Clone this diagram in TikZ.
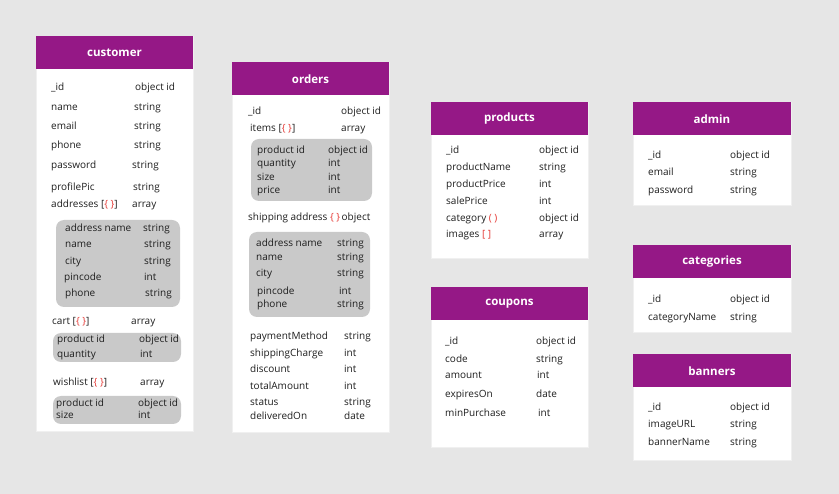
\documentclass[tikz,border=0pt]{standalone}
\usepackage{fontspec}
\setmainfont{Open Sans}
\definecolor{bgc}{HTML}{E6E6E6}
\definecolor{purp}{HTML}{951886}
\definecolor{gbx}{HTML}{C9C9C9}
\definecolor{txt}{HTML}{1E1E1E}
\definecolor{bred}{HTML}{E53935}
\newcommand\rd[1]{\textcolor{bred}{#1}}
\newcommand\fld[6]{\node[fl] (#1l) at (#2,#3) {#4}; \node[fl] (#1t) at (#5,#3) {#6};}
\newcommand\tbl[6]{%
  \node[tbody, minimum width=#4pt, minimum height=#5pt] (#1) at (#2,#3) {};
  \node[thead, minimum width=#4pt] (#1h) at (#2,#3) {#6};}
\newcommand\gb[5]{\node[gbox, minimum width=#4pt, minimum height=#5pt] (#1) at (#2,#3) {};}
\tikzset{
  fl/.style={anchor=mid west, inner sep=0pt, yshift=-0.8pt, font=\fontsize{10}{12}\selectfont, text=txt},
  tbody/.style={anchor=north west, fill=white, draw=white!94!black, line width=0.6pt, inner sep=0pt, outer sep=0pt},
  thead/.style={anchor=north west, fill=purp, minimum height=33.5pt, inner sep=0pt, outer sep=0pt, text=white, font=\fontsize{11.5}{13}\selectfont\bfseries},
  gbox/.style={anchor=north west, fill=gbx, rounded corners=8pt, inner sep=0pt, outer sep=0pt}
}
\begin{document}
\begin{tikzpicture}[x=1pt, y=-1pt]
\fill[bgc] (0,0) rectangle (839,494);
\useasboundingbox (0,0) rectangle (839,494);
% tables
\tbl{cust}{36}{36}{157}{395}{customer}
\tbl{ord}{232}{62}{157}{370}{orders}
\tbl{prod}{431}{102}{157}{156}{products}
\tbl{coup}{431}{287}{157}{160}{coupons}
\tbl{adm}{633}{102}{158}{103}{admin}
\tbl{cat}{633}{245}{158}{87}{categories}
\tbl{ban}{633}{354}{158}{106}{banners}
% grey sub boxes
\gb{cgA}{56}{220}{124}{87}
\gb{cgB}{53}{333}{128}{29}
\gb{cgC}{53}{396}{128}{28}
\gb{ogA}{251}{139}{121}{62}
\gb{ogB}{249}{232}{121}{85}
% customer
\fld{c1}{51}{87}{\_id}{135}{object id}
\fld{c2}{51}{107}{name}{134}{string}
\fld{c3}{51}{126}{email}{134}{string}
\fld{c4}{51}{145}{phone}{134}{string}
\fld{c5}{51}{165}{password}{132}{string}
\fld{c6}{51}{187}{profilePic}{133}{string}
\fld{c7}{51}{204}{addresses [\rd{\{ \}}]}{132}{array}
\fld{ca1}{65}{228}{address name}{143}{string}
\fld{ca2}{65}{244}{name}{144}{string}
\fld{ca3}{65}{261}{city}{144}{string}
\fld{ca4}{64}{277}{pincode}{144}{int}
\fld{ca5}{65}{293}{phone}{145}{string}
\fld{c8}{52}{321}{cart [\rd{\{ \}}]}{131}{array}
\fld{cc1}{57}{339}{product id}{139}{object id}
\fld{cc2}{57}{354}{quantity}{140}{int}
\fld{c9}{53}{382}{wishlist [\rd{\{ \}}]}{140}{array}
\fld{cw1}{56}{403}{product id}{138}{object id}
\fld{cw2}{56}{415}{size}{138}{int}
% orders
\fld{o1}{248}{111}{\_id}{341}{object id}
\fld{o2}{250}{128}{items [\rd{\{ \}}]}{341}{array}
\fld{oi1}{257}{150}{product id}{328}{object id}
\fld{oi2}{257}{163}{quantity}{328}{int}
\fld{oi3}{257}{177}{size}{328}{int}
\fld{oi4}{257}{190}{price}{328}{int}
\fld{o3}{248}{217}{shipping address \rd{\{ \}}}{341.5}{object}
\fld{os1}{256}{243}{address name}{337}{string}
\fld{os2}{256}{257}{name}{337}{string}
\fld{os3}{256}{273}{city}{337}{string}
\fld{os4}{257}{291}{pincode}{339}{int}
\fld{os5}{257}{304}{phone}{337}{string}
\fld{o4}{250}{336}{paymentMethod}{344}{string}
\fld{o5}{250}{353}{shippingCharge}{344}{int}
\fld{o6}{250}{369}{discount}{344}{int}
\fld{o7}{250}{386}{totalAmount}{344}{int}
\fld{o8}{250}{402}{status}{344}{string}
\fld{o9}{250}{416}{deliveredOn}{344}{date}
% products
\fld{p1}{446}{150}{\_id}{539}{object id}
\fld{p2}{446}{167}{productName}{539}{string}
\fld{p3}{446}{184}{productPrice}{539}{int}
\fld{p4}{446}{201}{salePrice}{539}{int}
\fld{p5}{446}{218}{category \rd{( )}}{539}{object id}
\fld{p6}{446}{234}{images \rd{[ ]}}{539}{array}
% coupons
\fld{k1}{445}{341}{\_id}{536}{object id}
\fld{k2}{445}{359}{code}{536}{string}
\fld{k3}{445}{375}{amount}{537}{int}
\fld{k4}{445}{394}{expiresOn}{536}{date}
\fld{k5}{445}{413}{minPurchase}{538}{int}
% admin
\fld{a1}{648}{155}{\_id}{730}{object id}
\fld{a2}{648}{172}{email}{730}{string}
\fld{a3}{648}{190}{password}{730}{string}
% categories
\fld{g1}{648}{299}{\_id}{730}{object id}
\fld{g2}{648}{317}{categoryName}{730}{string}
% banners
\fld{b1}{648}{407}{\_id}{730}{object id}
\fld{b2}{648}{424}{imageURL}{730}{string}
\fld{b3}{648}{442}{bannerName}{730}{string}
\end{tikzpicture}
\end{document}
